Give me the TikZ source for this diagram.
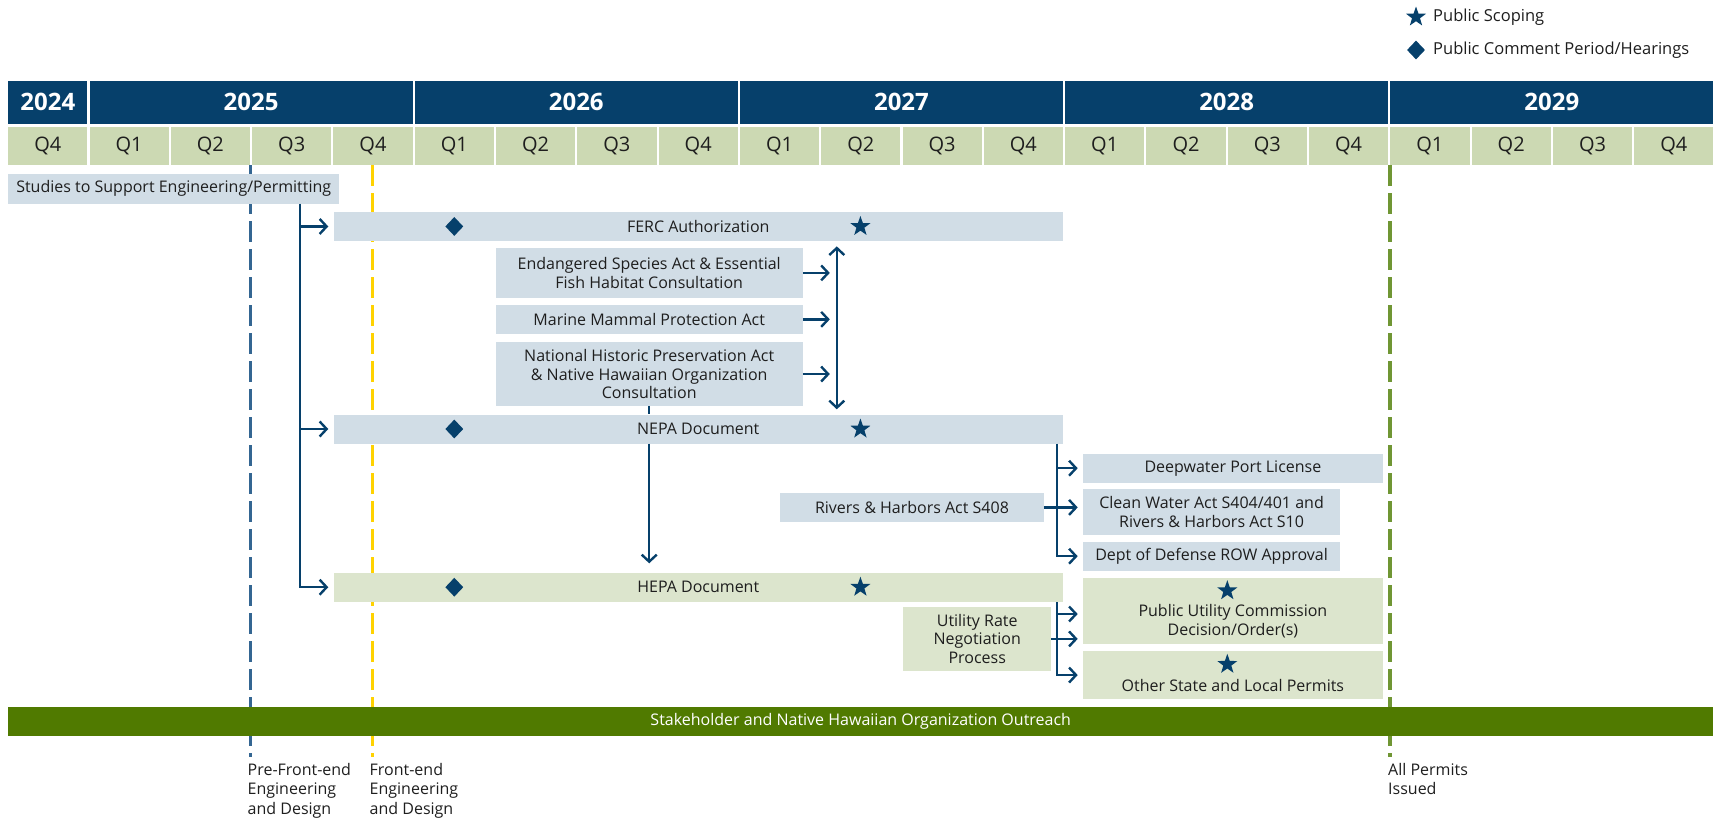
\documentclass[tikz,border=0pt]{standalone}
\usepackage{fontspec}
\setmainfont{Open Sans}
\usetikzlibrary{arrows.meta,shapes.geometric,calc}

\definecolor{navy}{RGB}{6,64,107}
\definecolor{sage}{RGB}{204,217,179}
\definecolor{mist}{RGB}{209,221,230}
\definecolor{pale}{RGB}{220,229,205}
\definecolor{moss}{RGB}{80,122,0}
\definecolor{steel}{RGB}{52,102,146}
\definecolor{gold}{RGB}{255,210,0}
\definecolor{olive}{RGB}{112,150,52}
\definecolor{ink}{RGB}{30,30,30}

\begin{document}
\begin{tikzpicture}[x=1pt,y=-1pt]
    \tikzstyle{yearcase}=[fill=navy, text=white, font=\fontsize{24}{28}\selectfont\bfseries, minimum height=42.3pt, anchor=north west, inner sep=0pt];
    \tikzstyle{quarter}=[fill=sage, text=ink, font=\fontsize{20}{24}\selectfont, minimum width=79.2pt, minimum height=38pt, anchor=north west, inner sep=0pt];
    \tikzstyle{task}=[fill=mist, text=ink, font=\fontsize{16}{18.5}\selectfont, align=center, anchor=north west, inner sep=0pt];
    \tikzstyle{statetask}=[task, fill=pale];
    \tikzstyle{note}=[text=ink, font=\fontsize{16}{19.5}\selectfont, align=left, anchor=north west, inner sep=0pt];
    \tikzstyle{legendtext}=[note, font=\fontsize{16.5}{19.5}\selectfont, anchor=west];
    \tikzstyle{milestone}=[line width=3.3pt, dash pattern=on 21pt off 7pt];
    \tikzstyle{link}=[navy, line width=2.4pt, -{Straight Barb[length=7pt,width=15pt]}, shorten >=5pt];
    \tikzstyle{both}=[link, {Straight Barb[length=7pt,width=15pt]}-{Straight Barb[length=7pt,width=15pt]}, shorten <=5pt];
    \tikzstyle{scoping}=[star, star points=5, star point ratio=2.5, fill=navy, minimum size=21pt, inner sep=0pt];
    \tikzstyle{hearing}=[diamond, fill=navy, minimum width=18pt, minimum height=19pt, inner sep=0pt];

    \useasboundingbox (0,0) rectangle (1713,822);

    % legend
    \node[scoping] (legstar) at (1416,17) {};
    \node[legendtext] (legscope) at (1433,17) {Public Scoping};
    \node[hearing] (legdiam) at (1416,50) {};
    \node[legendtext] (legcomment) at (1433,50) {Public Comment Period/Hearings};

    % years and quarters
    \node[yearcase, minimum width=79.2pt] (y2024) at (8,81) {2024};
    \foreach \y [count=\i from 0] in {2025,...,2029} {
        \node[yearcase, minimum width=323.1pt] (y\y) at (8+81.3+325.2*\i,81) {\y};
    }
    \foreach \x in {0,...,20} {
        \pgfmathtruncatemacro{\q}{mod(\x+3,4)+1}
        \node[quarter] (q\x) at (8+81.3*\x,126.7) {Q\q};
    }

    % milestones
    \draw[milestone, steel] (250.7,165) -- (250.7,757);
    \draw[milestone, gold] (372.4,165) -- (372.4,757);
    \draw[milestone, olive] (1390,165) -- (1390,757);
    \node[note] (prefeed) at (247.5,763) {Pre-Front-end\\Engineering\\and Design};
    \node[note] (feed) at (369.5,763) {Front-end\\Engineering\\and Design};
    \node[note] (issued) at (1388,763) {All Permits\\Issued};

    % tasks
    \node[task, minimum width=331pt, minimum height=30pt] (studies) at (8,173.3) {Studies to Support Engineering/Permitting};
    \node[task, minimum width=729.5pt, minimum height=29.5pt] (ferc) at (333.3,211.5) {FERC Authorization};
    \node[task, minimum width=306.8pt, minimum height=50pt] (esa) at (495.6,247.7) {Endangered Species Act \& Essential\\Fish Habitat Consultation};
    \node[task, minimum width=306.8pt, minimum height=28.3pt] (mmpa) at (495.6,305) {Marine Mammal Protection Act};
    \node[task, minimum width=306.8pt, minimum height=64.3pt] (nhpa) at (495.6,341.7) {National Historic Preservation Act\\\& Native Hawaiian Organization\\Consultation};
    \node[task, minimum width=729.5pt, minimum height=29pt] (nepa) at (333.3,414.3) {NEPA Document};
    \node[task, minimum width=300pt, minimum height=29.4pt] (deep) at (1082.7,453.3) {Deepwater Port License};
    \node[task, minimum width=263.5pt, minimum height=29pt] (rivers) at (780,492.7) {Rivers \& Harbors Act S408};
    \node[task, minimum width=257.3pt, minimum height=46.7pt] (clean) at (1082.7,488.3) {Clean Water Act S404/401 and\\Rivers \& Harbors Act S10};
    \node[task, minimum width=257.3pt, minimum height=29.4pt] (dod) at (1082.7,541.3) {Dept of Defense ROW Approval};
    \node[statetask, minimum width=729.5pt, minimum height=29.4pt] (hepa) at (333.3,572.3) {HEPA Document};
    \node[statetask, minimum width=148pt, minimum height=64pt] (utility) at (903,606.7) {Utility Rate\\Negotiation\\Process};
    \node[statetask, minimum width=300pt, minimum height=65.6pt] (puc) at (1082.7,577.7) {};
    \node[task, fill=none, anchor=center] (puctext) at ($(puc.center)+(0,10.5)$) {Public Utility Commission\\Decision/Order(s)};
    \node[statetask, minimum width=300pt, minimum height=48.3pt] (other) at (1082.7,650.7) {};
    \node[task, fill=none, anchor=center] (othertext) at ($(other.center)+(0,10)$) {Other State and Local Permits};
    \node[task, fill=moss, text=white, minimum width=1705pt, minimum height=29.5pt] (outreach) at (8,706.5) {Stakeholder and Native Hawaiian Organization Outreach};

    % markers
    \foreach \bar in {ferc,nepa,hepa} {
        \node[hearing] (d\bar) at (454.3,0 |- \bar.center) {};
        \node[scoping] (s\bar) at (860.4,0 |- \bar.center) {};
    }
    \node[scoping] (spuc) at (1227.3,590.7) {};
    \node[scoping] (sother) at (1227.3,664.3) {};

    % links
    \coordinate (tA) at (299.7,0 |- studies.south);
    \draw[link] (tA) |- (hepa.west);
    \draw[link] (tA |- ferc.west) -- (ferc.west);
    \draw[link] (tA |- nepa.west) -- (nepa.west);

    \coordinate (tD) at (836.8,0 |- ferc.south);
    \draw[both] (tD) -- (tD |- nepa.north);
    \draw[link, shorten >=7pt] (esa.east) -- (esa.east -| tD);
    \draw[link, shorten >=7pt] (mmpa.east) -- (mmpa.east -| tD);
    \draw[link, shorten >=7pt] (nhpa.east) -- (nhpa.east -| tD);

    \draw[navy, line width=2.4pt] (nhpa.south) -- (nhpa.south |- nepa.north);
    \draw[link, shorten >=9pt] (nhpa.south |- nepa.south) -- (nhpa.south |- hepa.north);

    \coordinate (tB) at ($(nepa.south east)+(-6,0)$);
    \draw[link] (tB) |- (dod.west);
    \draw[link] (tB |- deep.west) -- (deep.west);
    \draw[link] (rivers.east) -- (rivers.east -| clean.west);

    \coordinate (tC) at ($(hepa.south east)+(-6,0)$);
    \draw[link] (tC) |- (other.west);
    \draw[link] (tC |- 0,614) -- (puc.west |- 0,614);
    \draw[link] (utility.east) -- (utility.east -| puc.west);
\end{tikzpicture}
\end{document}
